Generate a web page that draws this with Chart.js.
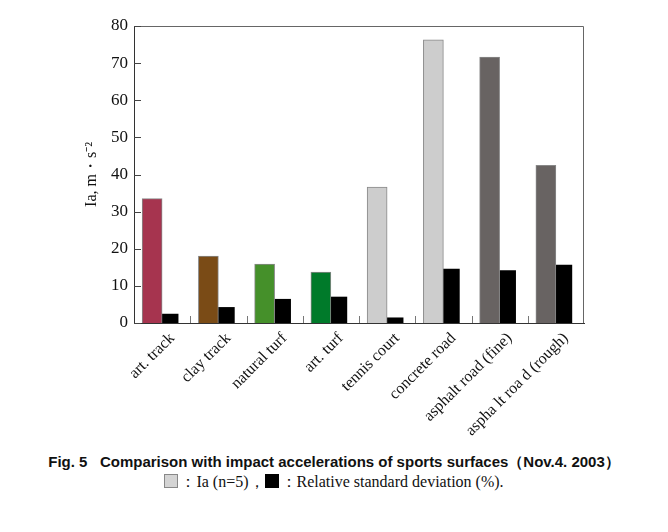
<!DOCTYPE html>
<html>
<head>
<meta charset="utf-8">
<script src="https://cdn.jsdelivr.net/npm/chart.js@4"></script>
<style>
  body { margin: 0; background: #fff; width: 668px; height: 532px; overflow: hidden; }
  #wrap { position: relative; width: 668px; height: 452px; }
  .cap1 { position: absolute; top: 453px; width: 668px; text-align: center; font: bold 15px "Liberation Sans", Arial, sans-serif; color: #111; }
  .cap2 { position: absolute; top: 472px; width: 668px; text-align: center; font: 16px "Liberation Serif", serif; color: #111; }
  .sq { display: inline-block; width: 12px; height: 12px; vertical-align: -1px; margin-right: 2px; }
</style>
</head>
<body>
<div id="wrap"><canvas id="chart" width="668" height="452"></canvas></div>
<div class="cap1">Fig. 5&nbsp;&nbsp;&nbsp;Comparison with impact accelerations of sports surfaces（Nov.4. 2003）</div>
<div class="cap2"><span class="sq" style="background:#d4d4d4;border:1px solid #888"></span>：Ia (n=5)，<span class="sq" style="background:#000;border:1px solid #000"></span>：Relative standard deviation (%).</div>
<script>
// data
let surfaces = ["art. track", "clay track", "natural turf", "art. turf", "tennis court",
                "concrete road", "asphalt road (fine)", "aspha lt roa d (rough)"];
let iaValues = [33.5, 18.0, 15.9, 13.7, 36.6, 76.3, 71.6, 42.5];
let rsdValues = [2.4, 4.2, 6.4, 7.0, 1.4, 14.5, 14.1, 15.6];
let surfaceColors = ["#a6344f", "#7a4b16", "#45902a", "#007a2a", "#cdcdcd", "#cdcdcd", "#686362", "#686362"];
let yTicks = [0, 10, 20, 30, 40, 50, 60, 70, 80];

const serif = "'Liberation Serif', 'Times New Roman', serif";

// small inward ticks + top/right frame
const frame = {
  id: "frame",
  afterDatasetsDraw(chart) {
    const { ctx, chartArea: a, scales: { x, y } } = chart;
    ctx.save();
    ctx.lineWidth = 1;
    ctx.strokeStyle = "#666";
    ctx.beginPath();
    ctx.moveTo(a.left, a.top + 0.5);
    ctx.lineTo(a.right - 0.5, a.top + 0.5);
    ctx.lineTo(a.right - 0.5, a.bottom);
    ctx.stroke();
    ctx.strokeStyle = "#444";
    ctx.beginPath();
    yTicks.forEach(v => {
      const py = Math.round(y.getPixelForValue(v)) + 0.5;
      ctx.moveTo(a.left, py);
      ctx.lineTo(a.left + 7, py);
    });
    ctx.stroke();
    ctx.strokeStyle = "#777";
    ctx.beginPath();
    for (let i = 1; i < surfaces.length; i++) {
      const px = Math.round((x.getPixelForValue(i - 1) + x.getPixelForValue(i)) / 2) + 0.5;
      ctx.moveTo(px, a.bottom);
      ctx.lineTo(px, a.bottom - 7);
    }
    ctx.stroke();
    ctx.restore();
  }
};

new Chart(document.getElementById("chart"), {
  type: "bar",
  data: {
    labels: surfaces,
    datasets: [
      {
        label: "Ia (n=5)",
        data: iaValues,
        backgroundColor: surfaceColors,
        borderColor: "#888",
        borderWidth: 1,
        barThickness: 20
      },
      {
        label: "Relative standard deviation (%)",
        data: rsdValues,
        backgroundColor: "#000",
        borderColor: "#000",
        borderWidth: 0,
        barThickness: 16
      }
    ]
  },
  options: {
    responsive: false,
    animation: false,
    layout: { padding: { left: 80, top: 26, right: 84, bottom: 0 } },
    plugins: { legend: { display: false }, tooltip: { enabled: false } },
    scales: {
      x: {
        grid: { display: false, drawTicks: false },
        border: { display: true, color: "#333", width: 1 },
        ticks: {
          color: "#111",
          font: { family: serif, size: 16 },
          minRotation: 45,
          maxRotation: 45,
          labelOffset: 10,
          padding: 6
        },
        afterFit: s => { s.height = 452 - 323; }
      },
      y: {
        min: 0,
        max: 80,
        grid: { display: false, drawTicks: false },
        border: { display: true, color: "#333", width: 1 },
        afterBuildTicks: s => { s.ticks = yTicks.map(v => ({ value: v })); },
        ticks: { color: "#111", font: { family: serif, size: 17 }, padding: 6 },
        title: {
          display: true,
          text: "Ia, m・s⁻²",
          color: "#111",
          font: { family: serif, size: 16 },
          padding: { top: 2, bottom: 0 }
        },
        afterFit: s => { s.width = 134 - 80; }
      }
    }
  },
  plugins: [frame]
});
</script>
</body>
</html>
